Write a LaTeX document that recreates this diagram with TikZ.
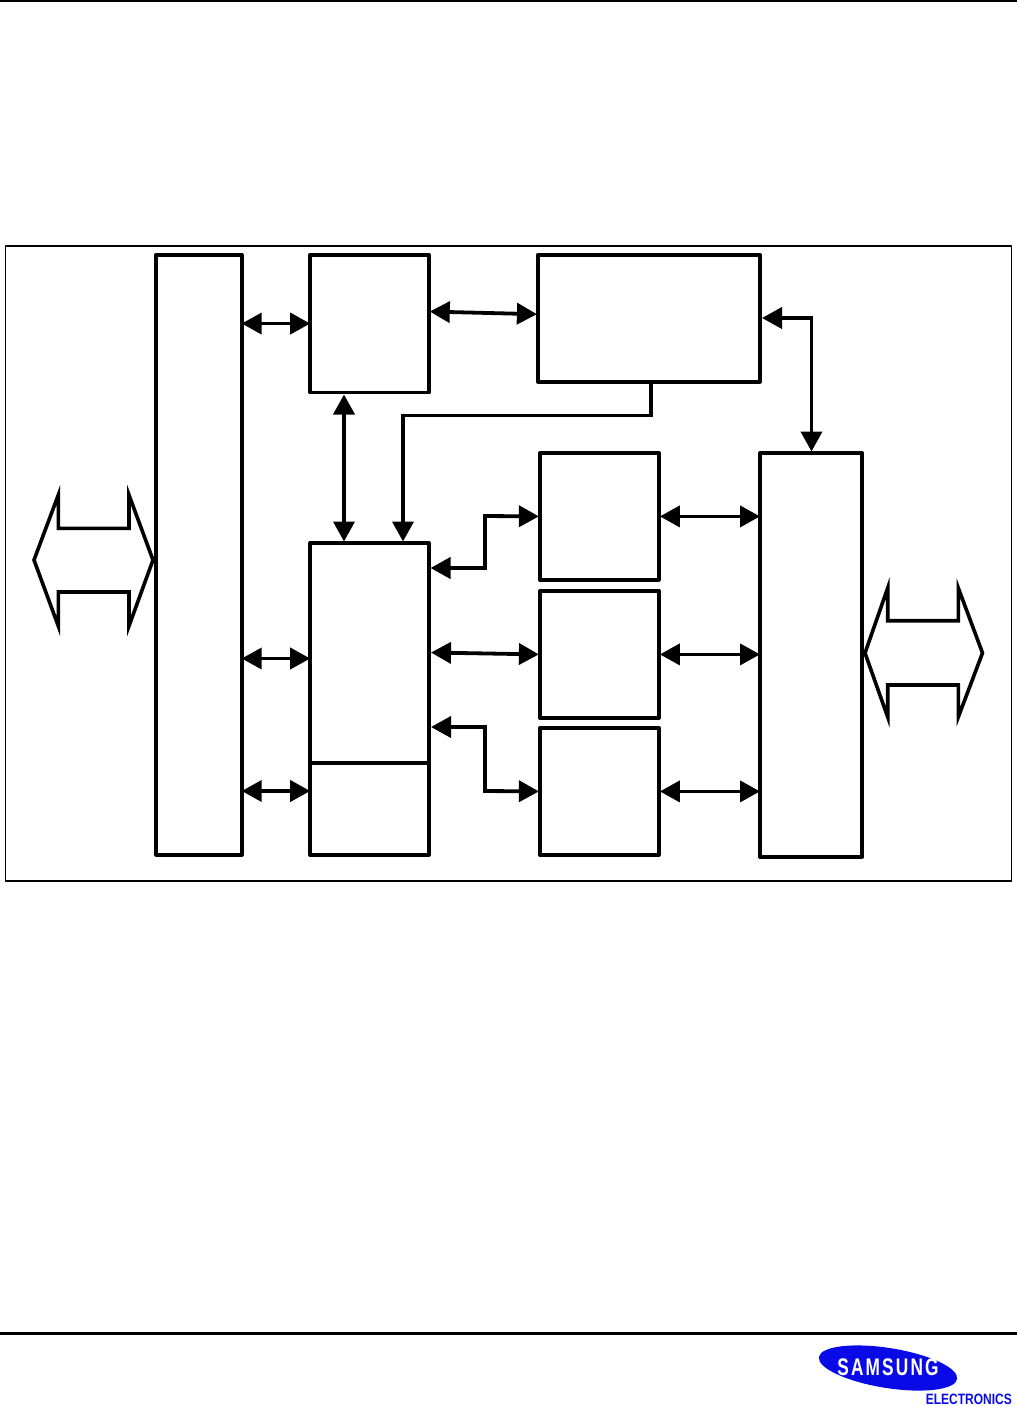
\documentclass[tikz,border=0pt]{standalone}
\usepackage{fontspec}
\setmainfont{Liberation Sans}
\usetikzlibrary{arrows.meta,calc}
\tikzset{
  box/.style={draw=black,line width=3.6pt,line join=round,fill=white,inner sep=0pt,outer sep=0pt,anchor=north west},
  link/.style={draw=black,line width=3.8pt,{Triangle[length=20pt,width=21pt]}-{Triangle[length=20pt,width=21pt]}},
  onelink/.style={draw=black,line width=3.8pt,-{Triangle[length=20pt,width=21pt]}},
  busarrow/.style={draw=black,line width=3.6pt,line join=miter,miter limit=12},
  rule/.style={draw=black,line width=3pt},
  logoblue/.style={fill=logocol,draw=none}
}
\definecolor{logocol}{RGB}{10,10,230}
\begin{document}
\begin{tikzpicture}[x=1pt,y=-1pt]
\useasboundingbox (0,0) rectangle (1017,1406);
% page rules
\coordinate (tl) at (0,1); \coordinate (tr) at (1017,1);
\coordinate (bl) at (0,1333); \coordinate (br) at (1017,1333);
\draw[rule,line width=2.5pt] (tl) -- (tr);
\draw[rule] (bl) -- (br);
% frame
\node[box,line width=1.7pt,minimum width=1006pt,minimum height=635pt] (frame) at (5.5,246) {};
% blocks
\node[box,minimum width=85.7pt,minimum height=600pt] (bus) at (156,254.7) {};
\node[box,minimum width=118.6pt,minimum height=137.7pt] (a) at (310.2,254.7) {};
\node[box,minimum width=222pt,minimum height=127pt] (b) at (537.9,254.7) {};
\node[box,minimum width=118.6pt,minimum height=220pt] (c) at (310.2,543) {};
\node[box,minimum width=118.6pt,minimum height=92pt] (cc) at (310.2,763) {};
\node[box,minimum width=119pt,minimum height=127pt] (d1) at (539.9,452.9) {};
\node[box,minimum width=119pt,minimum height=127pt] (d2) at (539.9,590.9) {};
\node[box,minimum width=119pt,minimum height=127pt] (d3) at (539.9,727.9) {};
\node[box,minimum width=102pt,minimum height=404pt] (e) at (760,452.9) {};
% ports
\coordinate (bc) at (bus.east |- 0,658.5);
\coordinate (cp) at (c.west |- 0,658.5);
\coordinate (bcc) at (bus.east |- 0,791);
\coordinate (ccp) at (cc.west |- 0,791);
\coordinate (ae) at ($(a.east)+(1,-12)$);
\coordinate (bw) at ($(b.west)+(-1,-4)$);
\coordinate (ac) at (344,394.5);
\coordinate (ca) at (344,541.5);
\coordinate (bs) at (651,382);
\coordinate (cb) at (403,541.5);
\coordinate (be) at (762,318);
\coordinate (en) at (811.5,451.5);
\coordinate (c1) at (430.5,568);
\coordinate (c2) at (431,652.5);
\coordinate (c3) at (431,727);
% connectors
\draw[link] (bus.east |- a.west) -- (a.west);
\draw[link] (bc) -- (cp);
\draw[link] (bcc) -- (ccp);
\draw[link] (ae) -- (bw);
\draw[link] (ac) -- (ca);
\draw[onelink] (bs) -- (651,415.5) -- (403,415.5) -- (cb);
\draw[link] (be) -- (811.5,318) -- (en);
\draw[link] (c1) -- (485,568) -- (485,516) -- ($(d1.west)+(-1,0)$);
\draw[link] (c2) -- ($(d2.west)+(-1,0)$);
\draw[link] (c3) -- (485,727) -- (485,791) -- ($(d3.west)+(-1,0)$);
\draw[link] ($(d1.east)+(1,0)$) -- (e.west |- d1.east);
\draw[link] ($(d2.east)+(1,0)$) -- (e.west |- d2.east);
\draw[link] ($(d3.east)+(1,0)$) -- (e.west |- d3.east);
% external bus arrows
\draw[busarrow] (34,560) -- (58.3,495) -- (58.3,528.3) -- (129,528.3) -- (129,495) -- (153,560) -- (129,626) -- (129,592) -- (58.3,592) -- (58.3,626) -- cycle;
\draw[busarrow] (865,653) -- (887.7,588) -- (887.7,620.7) -- (958.3,620.7) -- (958.3,588) -- (982.5,653) -- (958.3,717) -- (958.3,685) -- (887.7,685) -- (887.7,717) -- cycle;
% logo
\fill[logoblue] (888,1368) ellipse[x radius=70pt,y radius=20pt,rotate=-9];
\node[inner sep=0pt,text=white,font=\bfseries\fontsize{24}{24}\selectfont\addfontfeatures{FakeStretch=0.72,LetterSpace=9}] (logo) at (888,1367.5) {SAMSUNG};
\node[inner sep=0pt,text=logocol,anchor=east,font=\bfseries\fontsize{15}{15}\selectfont\addfontfeatures{FakeStretch=0.8}] (elec) at (1012,1399.5) {ELECTRONICS};
\end{tikzpicture}
\end{document}
